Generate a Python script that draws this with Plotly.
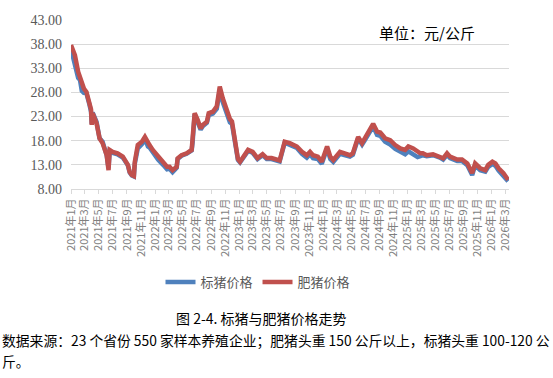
import plotly.graph_objects as go

dates = [
    "2021-01-01", "2021-01-09", "2021-01-18", "2021-02-01", "2021-02-09", "2021-02-17", "2021-02-26",
    "2021-03-09", "2021-03-22", "2021-03-29", "2021-04-01", "2021-04-05", "2021-04-22", "2021-05-05",
    "2021-05-18", "2021-06-05", "2021-06-13", "2021-06-18", "2021-07-01", "2021-07-22", "2021-08-14",
    "2021-09-05", "2021-09-13", "2021-09-22", "2021-10-01", "2021-10-05", "2021-10-18", "2021-11-05",
    "2021-11-18", "2021-12-01", "2021-12-08", "2021-12-22", "2022-01-14", "2022-02-05", "2022-02-22",
    "2022-03-05", "2022-03-18", "2022-04-05", "2022-04-09", "2022-04-26", "2022-05-18", "2022-06-09",
    "2022-06-13", "2022-06-22", "2022-07-05", "2022-07-18", "2022-07-27", "2022-08-14", "2022-08-22",
    "2022-09-09", "2022-09-26", "2022-10-09", "2022-10-22", "2022-11-09", "2022-11-22", "2022-12-01",
    "2022-12-14", "2022-12-27", "2023-01-05", "2023-01-18", "2023-02-09", "2023-03-01", "2023-03-22",
    "2023-04-13", "2023-05-01", "2023-05-22", "2023-06-13", "2023-06-26", "2023-07-18", "2023-08-09",
    "2023-09-09", "2023-10-01", "2023-10-22", "2023-11-05", "2023-11-18", "2023-12-09", "2023-12-26",
    "2024-01-18", "2024-02-01", "2024-02-14", "2024-03-14", "2024-04-26", "2024-05-09", "2024-06-01",
    "2024-06-18", "2024-07-01", "2024-07-14", "2024-08-05", "2024-08-22", "2024-09-05", "2024-09-26",
    "2024-10-18", "2024-11-09", "2024-12-01", "2024-12-22", "2025-01-05", "2025-01-26", "2025-02-14",
    "2025-02-26", "2025-03-09", "2025-03-26", "2025-04-22", "2025-05-22", "2025-06-05", "2025-06-22",
    "2025-07-05", "2025-08-05", "2025-08-26", "2025-09-18", "2025-10-09", "2025-10-22", "2025-11-13",
    "2025-12-05", "2025-12-18", "2026-01-05", "2026-01-18", "2026-02-01", "2026-02-22", "2026-03-14",
]

fat_pig = [
    37.8, 36.8, 35.7, 32.3, 31.2, 30.2, 28.8,
    28.1, 26.0, 24.5, 21.3, 23.7, 21.6, 18.5,
    17.5, 15.0, 11.9, 16.1, 15.7, 15.4, 14.7,
    13.0, 11.5, 10.9, 10.7, 13.6, 17.1, 17.8,
    18.8, 17.5, 17.1, 16.1, 14.7, 13.65, 12.6,
    12.6, 11.9, 12.6, 14.35, 15.0, 15.4, 16.1,
    17.8, 23.7, 22.3, 20.55, 21.25, 21.95, 23.7,
    24.0, 25.1, 29.2, 26.8, 24.0, 22.5, 22.0,
    17.8, 14.2, 13.65, 14.5, 16.1, 15.7, 14.4,
    15.2, 14.4, 14.4, 14.2, 13.9, 17.8, 17.5,
    16.8, 15.7, 15.0, 15.7, 15.0, 14.7, 13.65,
    16.8, 14.7, 14.0, 15.7, 15.0, 15.4, 18.8,
    17.5, 18.5, 19.5, 21.5, 19.9, 19.7, 18.5,
    18.1, 17.1, 16.4, 16.1, 16.8, 16.4, 15.7,
    15.4, 15.4, 15.0, 15.2, 14.7, 14.35, 15.4,
    14.7, 14.1, 14.1, 13.3, 11.3, 13.3, 12.3,
    11.9, 13.0, 13.65, 13.3, 12.3, 11.3, 9.9,
]

std_pig = [
    37.0, 35.5, 34.5, 31.0, 30.6, 28.3, 27.9,
    27.8, 25.5, 24.0, 21.5, 23.8, 21.9, 18.5,
    17.8, 15.0, 12.3, 15.8, 15.5, 15.2, 14.5,
    12.9, 11.4, 10.8, 10.6, 13.2, 16.4, 17.3,
    18.4, 16.8, 16.6, 15.5, 14.1, 13.0, 12.1,
    12.2, 11.5, 12.4, 14.2, 14.9, 15.3, 16.0,
    17.6, 23.5, 22.0, 20.3, 21.0, 21.7, 23.3,
    23.6, 24.6, 28.5, 26.0, 23.2, 21.8, 21.5,
    17.3, 14.0, 13.5, 14.3, 15.9, 15.5, 14.2,
    15.0, 14.2, 14.2, 14.0, 13.7, 17.6, 17.2,
    16.5, 15.3, 14.5, 15.2, 14.4, 14.2, 13.2,
    16.4, 14.2, 13.6, 15.3, 14.7, 15.1, 18.5,
    17.2, 18.2, 19.1, 21.0, 19.2, 19.0, 17.8,
    17.2, 16.3, 15.6, 15.2, 15.8, 15.2, 14.6,
    14.8, 15.0, 14.8, 15.0, 14.5, 14.1, 15.1,
    14.4, 13.8, 13.8, 12.9, 10.9, 12.9, 11.9,
    11.6, 12.6, 13.2, 12.8, 11.8, 10.8, 9.6,
]

series_names = ["标猪价格", "肥猪价格"]
y_ticks = [8, 13, 18, 23, 28, 33, 38, 43]
y_ticktext = ["%.2f" % v for v in y_ticks]
unit_text = "单位：元/公斤"
caption_text = "图 2-4. 标猪与肥猪价格走势"
source_line1 = "数据来源：23 个省份 550 家样本养殖企业；肥猪头重 150 公斤以上，标猪头重 100-120 公"
source_line2 = "斤。"

CJK = "Noto Sans CJK SC"

fig = go.Figure()
fig.add_trace(go.Scatter(x=dates, y=std_pig, mode="lines", name=series_names[0],
                         line=dict(color="#4F81BD", width=4.5)))
fig.add_trace(go.Scatter(x=dates, y=fat_pig, mode="lines", name=series_names[1],
                         line=dict(color="#C0504D", width=4.5)))

L, R, T, B = 71, 44, 20, 189
W, H = 553, 378
pw = W - L - R
ph = H - T - B

def px(x):
    return (x - L) / pw

def py(y):
    return (H - B - y) / ph

fig.update_layout(
    width=W, height=H,
    margin=dict(l=L, r=R, t=T, b=B, pad=0, autoexpand=False),
    paper_bgcolor="white", plot_bgcolor="white",
    showlegend=True,
    legend=dict(orientation="h", x=px(258), xanchor="center", y=py(282), yanchor="middle",
                font=dict(family=CJK, size=13, color="#595959"),
                itemwidth=30, tracegroupgap=0, bgcolor="rgba(0,0,0,0)"),
    xaxis=dict(
        type="date",
        range=["2021-01-01", "2026-03-18"],
        tick0="2021-01-01", dtick="M2",
        tickformat="%Y年%-m月",
        tickangle=-90,
        tickfont=dict(family=CJK, size=11, color="#7F7F7F"),
        ticks="outside", ticklen=4, tickcolor="#D9D9D9",
        showline=True, linecolor="#D9D9D9", linewidth=1,
        showgrid=False, zeroline=False,
    ),
    yaxis=dict(
        range=[8, 43],
        tickvals=y_ticks, ticktext=y_ticktext,
        tickfont=dict(family="Liberation Serif", size=14, color="#595959"),
        showgrid=True, gridcolor="#D9D9D9", gridwidth=1,
        zeroline=False, showline=False, ticks="", ticklabelstandoff=8,
    ),
    annotations=[
        dict(text=unit_text, xref="paper", yref="paper", x=px(377), y=py(32),
             xanchor="left", yanchor="middle", showarrow=False,
             font=dict(family=CJK, size=15, color="#000000")),
        dict(text=caption_text, xref="paper", yref="paper", x=px(261), y=py(318),
             xanchor="center", yanchor="middle", showarrow=False,
             font=dict(family=CJK, size=14, color="#000000")),
        dict(text=source_line1, xref="paper", yref="paper", x=px(0), y=py(340),
             xanchor="left", yanchor="middle", showarrow=False,
             font=dict(family=CJK, size=13.8, color="#000000")),
        dict(text=source_line2, xref="paper", yref="paper", x=px(0), y=py(361),
             xanchor="left", yanchor="middle", showarrow=False,
             font=dict(family=CJK, size=13.8, color="#000000")),
    ],
)

fig.write_html("out.html", config={"displayModeBar": False},
               post_script="document.body.style.margin='0px';document.body.style.overflow='hidden';")
